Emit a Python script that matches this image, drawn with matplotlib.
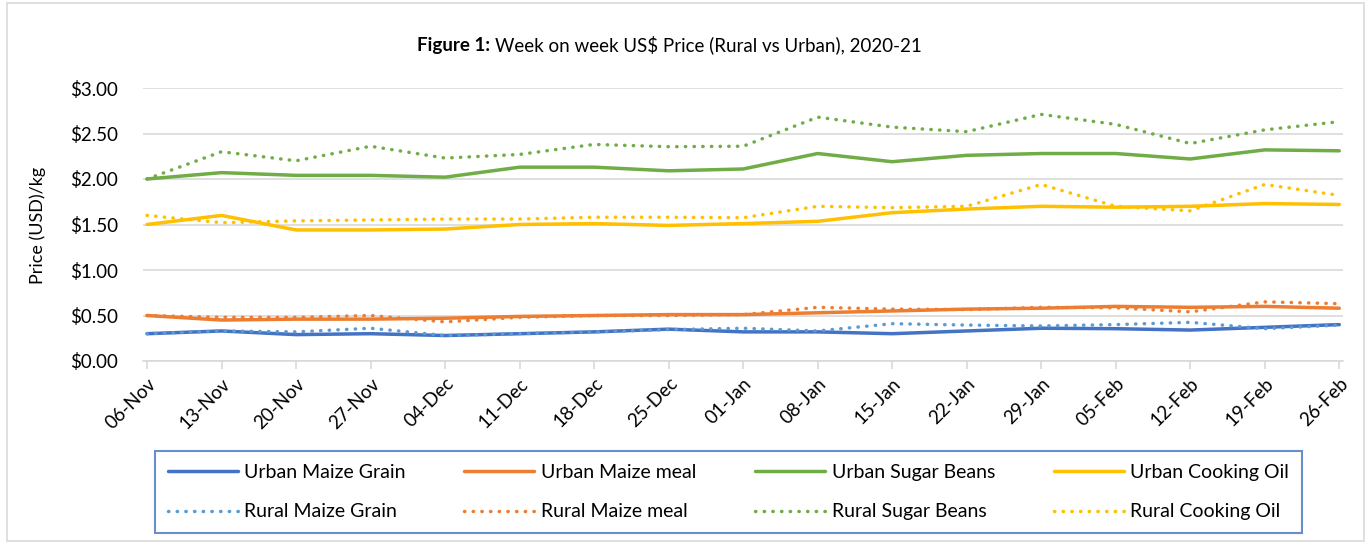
import matplotlib
matplotlib.use("Agg")
import matplotlib.pyplot as plt
from matplotlib.patches import Rectangle

weeks = ["06-Nov", "13-Nov", "20-Nov", "27-Nov", "04-Dec", "11-Dec", "18-Dec", "25-Dec",
         "01-Jan", "08-Jan", "15-Jan", "22-Jan", "29-Jan", "05-Feb", "12-Feb", "19-Feb", "26-Feb"]

urban_maize_grain = [0.30, 0.33, 0.29, 0.30, 0.28, 0.30, 0.32, 0.35, 0.32, 0.32, 0.30, 0.33, 0.36, 0.355, 0.34, 0.37, 0.40]
urban_maize_meal = [0.50, 0.45, 0.46, 0.46, 0.47, 0.49, 0.50, 0.51, 0.51, 0.53, 0.55, 0.57, 0.58, 0.60, 0.59, 0.60, 0.58]
urban_sugar_beans = [2.00, 2.07, 2.04, 2.04, 2.02, 2.13, 2.13, 2.09, 2.11, 2.28, 2.19, 2.26, 2.28, 2.28, 2.22, 2.32, 2.31]
urban_cooking_oil = [1.50, 1.60, 1.44, 1.44, 1.45, 1.50, 1.51, 1.49, 1.51, 1.535, 1.63, 1.67, 1.70, 1.69, 1.70, 1.73, 1.72]

rural_maize_grain = [0.30, 0.33, 0.32, 0.36, 0.28, 0.30, 0.32, 0.345, 0.36, 0.33, 0.41, 0.395, 0.385, 0.40, 0.425, 0.355, 0.395]
rural_maize_meal = [0.50, 0.48, 0.48, 0.50, 0.43, 0.48, 0.50, 0.50, 0.51, 0.59, 0.57, 0.565, 0.59, 0.585, 0.54, 0.65, 0.63]
rural_sugar_beans = [2.00, 2.30, 2.20, 2.36, 2.23, 2.27, 2.38, 2.355, 2.36, 2.68, 2.57, 2.52, 2.71, 2.60, 2.39, 2.54, 2.63]
rural_cooking_oil = [1.60, 1.52, 1.54, 1.55, 1.56, 1.56, 1.58, 1.58, 1.575, 1.70, 1.685, 1.70, 1.94, 1.70, 1.65, 1.94, 1.82]

y_ticks = [0.0, 0.5, 1.0, 1.5, 2.0, 2.5, 3.0]

FONT = ["Lato", "DejaVu Sans"]
plt.rcParams["font.family"] = FONT

W, H = 1371, 542
fig = plt.figure(figsize=(W / 100, H / 100), dpi=100)

ax = fig.add_axes([143 / W, 1 - 361 / H, 1200 / W, 273 / H])

x = list(range(len(weeks)))
dot = (0, (0.1, 2.4))
series = [
    ("Urban Maize Grain", urban_maize_grain, "#4472C4", "-"),
    ("Rural Maize Grain", rural_maize_grain, "#5B9BD5", dot),
    ("Urban Maize meal", urban_maize_meal, "#ED7D31", "-"),
    ("Rural Maize meal", rural_maize_meal, "#ED7D31", dot),
    ("Urban Sugar Beans", urban_sugar_beans, "#70AD47", "-"),
    ("Rural Sugar Beans", rural_sugar_beans, "#70AD47", dot),
    ("Urban Cooking Oil", urban_cooking_oil, "#FFC000", "-"),
    ("Rural Cooking Oil", rural_cooking_oil, "#FFC000", dot),
]
draw_order = [0, 2, 4, 6, 1, 3, 5, 7]
handles = {}
for i in draw_order:
    label, vals, col, ls = series[i]
    (h,) = ax.plot(x, vals, color=col, lw=2.5, linestyle=ls,
                   dash_capstyle="round", solid_capstyle="round",
                   label=label, zorder=3 if ls == "-" else 4)
    handles[i] = h

ax.set_xlim(-0.054, 16.05)
ax.set_ylim(0, 3.0)
ax.set_yticks(y_ticks)
ax.set_yticklabels([f"${v:.2f}" for v in y_ticks], fontsize=13.5)
ax.set_xticks(x)
ax.set_xticklabels(weeks, rotation=45, ha="right", rotation_mode="anchor", fontsize=13.5)
ax.grid(axis="y", color="#D9D9D9", lw=1.2, zorder=0)
ax.set_axisbelow(True)
for s in ["top", "right", "left"]:
    ax.spines[s].set_visible(False)
ax.spines["bottom"].set_color("#D9D9D9")
ax.spines["bottom"].set_linewidth(1.2)
ax.tick_params(axis="y", length=0, pad=18)
ax.tick_params(axis="x", length=6, color="#D9D9D9", width=1.2, pad=4, direction="out")

fig.text(38 / W, 1 - 225 / H, "Price (USD)/kg", rotation=90, ha="center", va="center", fontsize=13)

fig.text(490 / W, 1 - 45 / H, "Figure 1:", fontweight="bold", ha="right", va="center", fontsize=13.5)
fig.text(495 / W, 1 - 45 / H, "Week on week US$ Price (Rural vs Urban), 2020-21", ha="left", va="center", fontsize=13.5)

# outer chart border
fig.patches.append(Rectangle((7 / W, 0.002), 1357 / W, 0.993, transform=fig.transFigure,
                             fill=False, edgecolor="#D9D9D9", lw=1.2))

leg = fig.legend([handles[i] for i in range(8)], [s[0] for s in series],
                 loc="lower left", bbox_to_anchor=(155 / W, 1 - 533 / H, 1147 / W, 83 / H),
                 mode="expand", ncol=4, fontsize=14, handlelength=3.6, frameon=True,
                 fancybox=False, edgecolor="#4472C4", borderaxespad=0, labelspacing=1.15,
                 borderpad=0.65, handletextpad=0.35)
leg.get_frame().set_linewidth(1.5)

fig.savefig("out.png", dpi=100)
